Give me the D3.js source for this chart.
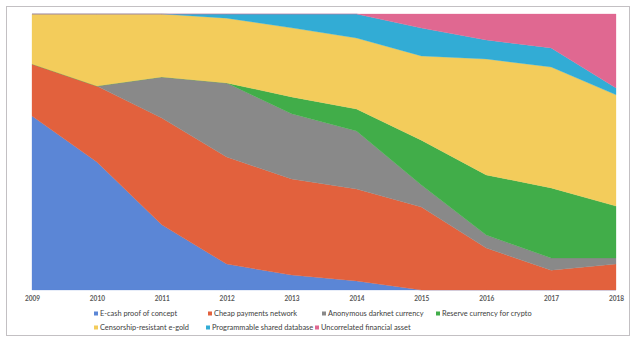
<!DOCTYPE html>
<html>
<head>
<meta charset="utf-8">
<script src="https://cdn.jsdelivr.net/npm/d3@7"></script>
<style>
html,body{margin:0;padding:0;background:#fff;}
svg{display:block;}
</style>
</head>
<body>
<svg id="chart" width="637" height="339"></svg>
<script>
// ---- data ----
const years = [2009, 2010, 2011, 2012, 2013, 2014, 2015, 2016, 2017, 2018];
const seriesNames = [
  "E-cash proof of concept",
  "Cheap payments network",
  "Anonymous darknet currency",
  "Reserve currency for crypto",
  "Censorship-resistant e-gold",
  "Programmable shared database",
  "Uncorrelated financial asset"
];
const ecash        = [63.0, 46.4, 23.6, 9.4, 5.4, 3.3, 0, 0, 0, 0];
const cheap        = [18.9, 27.5, 38.7, 38.8, 34.8, 33.3, 30.1, 15.2, 7.2, 9.4];
const darknet      = [0, 0, 14.9, 26.8, 23.6, 21.0, 7.9, 4.7, 4.4, 2.2];
const reserve      = [0, 0, 0, 0, 6.1, 8.0, 16.3, 21.8, 25.4, 18.8];
const egold        = [18.1, 26.1, 22.8, 23.5, 25.0, 25.7, 30.5, 42.0, 43.8, 40.3];
const programmable = [0, 0, 0, 1.5, 5.0, 8.7, 10.1, 6.9, 6.9, 2.5];
const uncorrelated = [0, 0, 0, 0, 0, 0, 5.1, 9.4, 12.3, 26.8];
const colors = ["#5b86d6", "#e2613d", "#898989", "#41ad49", "#f3cc5b", "#32acd5", "#e06891"];

const seriesValues = [ecash, cheap, darknet, reserve, egold, programmable, uncorrelated];

// ---- build table ----
const table = years.map((yr, i) => {
  const row = {year: yr};
  seriesNames.forEach((n, k) => row[n] = seriesValues[k][i]);
  return row;
});

const svg = d3.select("#chart");

// outer border
svg.append("rect")
  .attr("x", 6.5).attr("y", 6.5)
  .attr("width", 623).attr("height", 329)
  .attr("fill", "#fff").attr("stroke", "#c3c0c3").attr("stroke-width", 1);

const x = d3.scaleLinear().domain([years[0], years[years.length - 1]]).range([32, 616]);
const y = d3.scaleLinear().domain([0, 100]).range([290, 14]);

const stack = d3.stack().keys(seriesNames).offset(d3.stackOffsetExpand);
const stacked = stack(table);

const area = d3.area()
  .x(d => x(d.data.year))
  .y0(d => y(d[0] * 100))
  .y1(d => y(d[1] * 100))
  .curve(d3.curveLinear);

svg.append("g").selectAll("path")
  .data(stacked)
  .join("path")
  .attr("d", area)
  .attr("fill", (d, i) => colors[i])
  .attr("stroke", (d, i) => colors[i])
  .attr("stroke-width", 0.3);

// x axis
const axis = d3.axisBottom(x)
  .tickValues(years)
  .tickFormat(d3.format("d"))
  .tickSize(0)
  .tickPadding(6);
const ax = svg.append("g").attr("transform", "translate(0,290)").call(axis);
ax.select(".domain").remove();
ax.selectAll("text")
  .attr("font-family", "Lato, 'Open Sans', sans-serif")
  .attr("font-size", "6.5px")
  .attr("font-weight", "bold")
  .attr("fill", "#595959");

// legend
const legendPos = [
  [94, 314], [208, 314], [322, 314], [436, 314],
  [94, 328], [206, 328], [315, 328]
];
const lg = svg.append("g").selectAll("g")
  .data(seriesNames)
  .join("g")
  .attr("transform", (d, i) => `translate(${legendPos[i][0]},${legendPos[i][1]})`);
lg.append("rect")
  .attr("x", 0).attr("y", -2.5)
  .attr("width", 4).attr("height", 4)
  .attr("fill", (d, i) => colors[i]);
lg.append("text")
  .attr("x", 6).attr("y", 0)
  .attr("dy", "0.33em")
  .attr("font-family", "Lato, 'Open Sans', sans-serif")
  .attr("font-size", "7.4px")
  .attr("fill", "#404040")
  .text(d => d);
</script>
</body>
</html>
